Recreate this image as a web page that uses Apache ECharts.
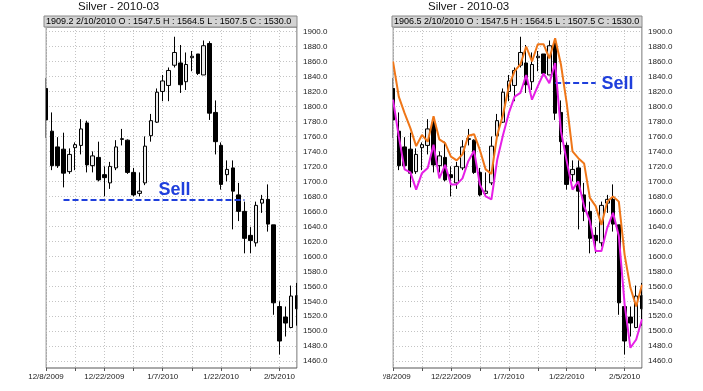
<!DOCTYPE html>
<html><head><meta charset="utf-8">
<script src="https://cdn.jsdelivr.net/npm/echarts@6/dist/echarts.min.js"></script>
<style>html,body{margin:0;padding:0;background:#fff}#c{width:703px;height:391px}</style>
</head><body><div id="c"></div>
<script>
const categories = ['12/8/2009','12/9/2009','12/10/2009','12/11/2009','12/14/2009','12/15/2009','12/16/2009','12/17/2009','12/18/2009','12/21/2009',
 '12/22/2009','12/23/2009','12/24/2009','12/28/2009','12/29/2009','12/30/2009','12/31/2009','1/4/2010','1/5/2010','1/6/2010',
 '1/7/2010','1/8/2010','1/11/2010','1/12/2010','1/13/2010','1/14/2010','1/15/2010','1/19/2010','1/20/2010','1/21/2010',
 '1/22/2010','1/25/2010','1/26/2010','1/27/2010','1/28/2010','1/29/2010','2/1/2010','2/2/2010','2/3/2010','2/4/2010',
 '2/5/2010','2/8/2010','2/9/2010','2/10/2010'];
const opens  = [1824,1767,1746,1743,1713,1745,1748,1778,1721,1732,1709,1698,1718,1756,1755,1712,1684,1698,1761,1779,1820,1828,1855,1858,1833,1865,1870,1842,1884,1792,1748,1709,1718,1682,1660,1628,1618,1671,1676,1642,1533,1519,1505,1547.5];
const highs  = [1838,1792,1759,1765,1744,1752,1783,1781,1740,1753,1720,1726,1755,1770,1756,1718,1712,1760,1790,1824,1842,1852,1893,1882,1872,1874,1870,1888,1887,1808,1752,1728,1728,1698,1673,1639,1673,1682,1696,1642,1540,1533,1561,1564.5];
const lows   = [1758,1715,1718,1692,1710,1715,1736,1712,1712,1700,1680,1690,1715,1748,1710,1680,1680,1695,1753,1778,1807,1807,1852,1818,1822,1847,1842,1842,1782,1736,1689,1700,1636,1647,1604,1604,1613,1658,1633,1522,1469,1493,1504,1507.5];
const closes = [1782,1721,1721,1711,1736,1749,1770,1722,1734,1702,1705,1720,1746,1757,1712,1682,1687,1747,1781,1819,1834,1848,1872,1829,1856,1867,1844,1881,1791,1753,1696,1716,1687,1660,1624,1621,1668,1676,1643,1538,1487,1511,1547,1530];
const upperLine = [1860,1813,1791,1771,1747,1762,1753,1787,1756,1751,1733,1728,1736,1761,1763,1742,1716,1710,1762,1789,1827,1847,1856,1880,1860,1883,1883,1864,1891,1856,1804,1740,1731,1724,1678,1667,1642,1673,1680,1673,1602,1558,1533,1562];
const lowerLine = [1809,1760,1716,1712,1689,1711,1718,1749,1704,1722,1696,1696,1704,1727,1741,1696,1680,1676,1729,1762,1791,1813,1818,1842,1809,1827,1844,1831,1858,1767,1727,1689,1700,1667,1647,1607,1607,1638,1658,1627,1536,1478,1489,1516];
const yTicks = [1460,1480,1500,1520,1540,1560,1580,1600,1620,1640,1660,1680,1700,1720,1740,1760,1780,1800,1820,1840,1860,1880,1900];
const titleText = 'Silver - 2010-03';
const headerLeft = '1909.2 2/10/2010 O : 1547.5 H : 1564.5 L : 1507.5 C : 1530.0';
const headerRight = '1906.5 2/10/2010 O : 1547.5 H : 1564.5 L : 1507.5 C : 1530.0';
const sellText = 'Sell';
const sellLeft = {from: 3, to: 34, value: 1675, labelAt: 22, labelValue: 1689};
const sellRight = {from: 28, to: 35, value: 1832, labelAt: 36, labelValue: 1830};

const FONT = "'Liberation Sans',Arial,sans-serif";
const BLUE = '#1f3fdc';
const candleData = categories.map((d, i) => [opens[i], closes[i], lows[i], highs[i]]);

function xAxis(gi) {
  return {type: 'category', gridIndex: gi, data: categories, boundaryGap: false,
    axisLine: {show: false},
    axisTick: {show: true, interval: i => i % 5 === 0, length: 3, lineStyle: {color: '#555'}},
    axisLabel: {interval: i => i % 10 === 0, fontSize: 8, fontFamily: FONT, color: '#222', margin: 5},
    splitLine: {show: true, interval: i => i % 5 === 0, lineStyle: {type: [1, 2], color: '#c4c4c4'}}};
}
function yAxis(gi) {
  return {type: 'value', gridIndex: gi, position: 'right', min: 1451, max: 1906, splitNumber: 22,
    axisLine: {show: false},
    axisTick: {show: false, customValues: yTicks},
    axisLabel: {customValues: yTicks, formatter: v => v.toFixed(1), fontSize: 8, fontFamily: FONT, color: '#222', margin: 6},
    splitLine: {show: true, lineStyle: {type: [1, 2], color: '#c4c4c4'}}};
}
function candle(gi, sell) {
  return {type: 'candlestick', xAxisIndex: gi, yAxisIndex: gi, data: candleData, barWidth: 4, clip: true,
    itemStyle: {color: '#ececec', color0: '#000', borderColor: '#000', borderColor0: '#000', borderWidth: 1},
    markLine: {silent: true, symbol: 'none', animation: false,
      lineStyle: {color: BLUE, width: 2, type: [6, 3]}, label: {show: false},
      data: [[{coord: [sell.from, sell.value]}, {coord: [sell.to, sell.value]}]]}};
}

const chart = echarts.init(document.getElementById('c'), null, {renderer: 'canvas'});
const option = {
  animation: false,
  backgroundColor: '#fff',
  grid: [
    {left: 46, top: 27, width: 251, height: 341, show: true, borderColor: '#555', borderWidth: 1, containLabel: false},
    {left: 393, top: 27, width: 249, height: 341, show: true, borderColor: '#555', borderWidth: 1, containLabel: false}
  ],
  xAxis: [xAxis(0), xAxis(1)],
  yAxis: [yAxis(0), yAxis(1)],
  series: [
    candle(0, sellLeft),
    candle(1, sellRight),
    {type: 'line', xAxisIndex: 1, yAxisIndex: 1, data: upperLine, symbol: 'none', lineStyle: {color: '#ef7618', width: 2}, z: 5},
    {type: 'line', xAxisIndex: 1, yAxisIndex: 1, data: lowerLine, symbol: 'none', lineStyle: {color: '#e61fe6', width: 2}, z: 5}
  ]
};
chart.setOption(option);

const pL = chart.convertToPixel({xAxisIndex: 0, yAxisIndex: 0}, [sellLeft.labelAt, sellLeft.labelValue]);
const pR = chart.convertToPixel({xAxisIndex: 1, yAxisIndex: 1}, [sellRight.labelAt, sellRight.labelValue]);
const mask = {fill: '#fff'};

chart.setOption({graphic: [
  {type: 'rect', shape: {x: 38, y: 27, width: 7.5, height: 342}, style: mask, z: 20},
  {type: 'rect', shape: {x: 297.6, y: 27, width: 4, height: 342}, style: mask, z: 20},
  {type: 'rect', shape: {x: 385, y: 27, width: 7.5, height: 342}, style: mask, z: 20},
  {type: 'rect', shape: {x: 642.6, y: 27, width: 4, height: 342}, style: mask, z: 20},
  {type: 'rect', shape: {x: 345, y: 370, width: 38, height: 21}, style: mask, z: 20},
  {type: 'text', left: 78, top: 1, style: {text: titleText, fontSize: 11.5, fontFamily: FONT, fill: '#111'}},
  {type: 'text', left: 428, top: 1, style: {text: titleText, fontSize: 11.5, fontFamily: FONT, fill: '#111'}},
  {type: 'rect', shape: {x: 44, y: 16, width: 253, height: 11}, style: {fill: '#d3d3d3', stroke: '#8a8a8a', lineWidth: 1}, z: 21},
  {type: 'rect', shape: {x: 392, y: 16, width: 250, height: 11}, style: {fill: '#d3d3d3', stroke: '#8a8a8a', lineWidth: 1}, z: 21},
  {type: 'text', x: 46, y: 21.5, style: {text: headerLeft, fontSize: 9, fontFamily: FONT, fill: '#000', verticalAlign: 'middle'}, z: 22},
  {type: 'text', x: 394, y: 21.5, style: {text: headerRight, fontSize: 9, fontFamily: FONT, fill: '#000', verticalAlign: 'middle'}, z: 22},
  {type: 'text', x: pL[0], y: pL[1], style: {text: sellText, fontSize: 18, fontWeight: 'bold', fontFamily: FONT, fill: BLUE, align: 'center', verticalAlign: 'middle'}, z: 12},
  {type: 'text', x: pR[0], y: pR[1], style: {text: sellText, fontSize: 18, fontWeight: 'bold', fontFamily: FONT, fill: BLUE, align: 'left', verticalAlign: 'middle'}, z: 12}
]});
</script></body></html>
